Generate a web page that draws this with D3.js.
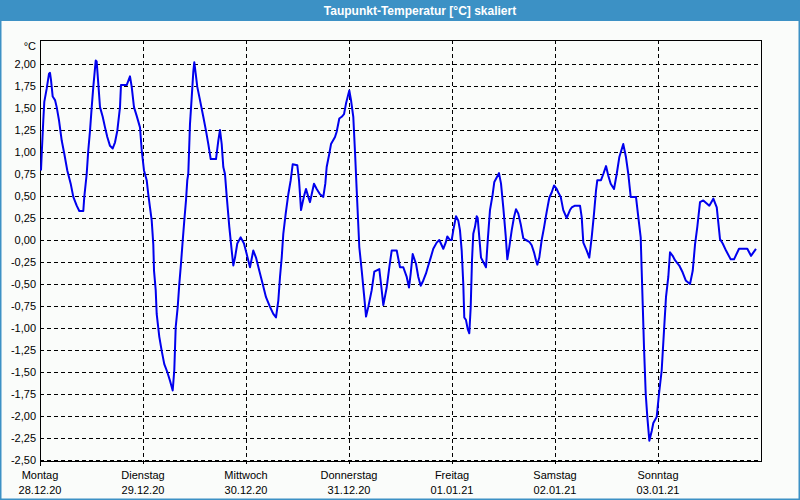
<!DOCTYPE html>
<html><head><meta charset="utf-8">
<script src="https://cdn.jsdelivr.net/npm/d3@7"></script>
<style>
html,body{margin:0;padding:0;background:#fafcfa;}
svg{display:block;}
</style></head>
<body>
<svg id="chart" width="800" height="500"></svg>
<script>
// ---- data (hours since 28.12.20 00:00, dew point in °C) ----
const hours = [0.23,0.4,0.77,1.0,1.56,2.1,2.33,2.56,2.96,3.5,3.89,4.43,5.06,5.66,6.36,7.15,7.76,8.55,9.16,10.09,10.32,10.88,11.25,11.65,12.05,12.42,12.98,13.2,13.58,13.98,14.61,15.15,15.68,16.31,16.94,17.48,18.01,18.64,18.87,20.2,20.97,21.37,21.9,22.53,23.3,23.7,24.23,24.86,25.23,25.63,26.03,26.4,26.57,26.96,27.19,27.8,28.36,28.96,29.66,30.29,30.92,31.29,31.62,32.09,32.46,32.85,33.25,33.62,34.02,34.32,34.55,34.95,35.35,35.72,35.95,36.28,36.65,37.28,38.05,38.68,39.22,39.78,41.01,41.55,41.94,42.34,42.71,43.1,43.5,44.11,44.67,45.04,45.44,45.97,46.77,47.53,48.16,48.93,49.7,50.33,51.1,51.89,52.66,53.59,54.36,54.99,55.53,55.92,56.32,56.69,57.25,57.86,58.42,58.88,59.95,60.35,60.58,60.82,61.21,61.58,61.98,62.52,62.91,63.31,63.84,64.47,65.24,66.01,66.48,66.8,67.41,67.81,68.74,69.13,69.74,70.3,70.84,71.3,72.07,72.47,73.0,73.4,73.8,74.4,74.57,74.97,75.5,75.97,76.5,77.29,77.9,79.06,79.46,80.0,80.78,81.39,81.95,83.12,83.88,84.65,85.45,85.98,86.38,86.84,87.61,88.15,88.71,89.31,89.94,90.48,91.04,91.64,92.43,93.04,93.6,93.97,94.53,94.9,95.53,95.93,96.3,96.93,97.47,97.86,98.26,98.63,98.86,99.26,99.65,100.03,100.36,100.66,100.96,101.36,101.76,101.99,102.36,102.76,103.29,103.92,104.32,104.85,105.48,105.86,106.41,106.95,107.42,107.95,108.51,108.89,109.35,109.91,110.45,110.91,111.45,112.01,112.61,113.24,114.01,114.57,115.11,115.57,115.88,116.34,116.9,117.44,118.06,118.67,119.23,119.77,120.39,120.77,121.33,121.93,122.72,123.49,123.89,124.66,125.83,126.22,126.6,127.39,127.99,128.55,129.09,129.55,129.86,130.72,131.26,131.89,132.42,132.98,133.75,134.38,134.98,135.91,136.54,137.08,137.64,138.87,139.41,139.97,140.2,140.44,140.74,141.14,141.51,141.98,142.54,142.91,143.7,144.23,144.86,145.4,145.86,146.4,146.8,147.42,147.96,148.96,149.76,150.46,151.46,152.09,152.63,153.16,153.79,154.56,155.96,156.89,157.69,158.45,159.08,159.85,160.94,161.71,162.88,164.81,165.67,166.83];
const dewpoint = [0.79,0.98,1.36,1.57,1.72,1.89,1.9,1.82,1.63,1.59,1.51,1.36,1.13,0.98,0.79,0.64,0.49,0.39,0.33,0.33,0.49,0.75,1.02,1.24,1.51,1.74,2.04,2.03,1.78,1.51,1.4,1.28,1.17,1.07,1.04,1.11,1.24,1.51,1.76,1.76,1.86,1.74,1.51,1.41,1.28,1.02,0.79,0.68,0.52,0.37,0.22,-0.05,-0.35,-0.57,-0.84,-1.1,-1.26,-1.41,-1.5,-1.6,-1.71,-1.48,-0.99,-0.76,-0.5,-0.27,-0.01,0.22,0.45,0.68,0.75,1.32,1.62,1.91,2.02,1.89,1.74,1.59,1.4,1.24,1.09,0.92,0.92,1.13,1.25,1.09,0.83,0.75,0.5,0.15,-0.12,-0.29,-0.2,-0.04,0.03,-0.04,-0.16,-0.31,-0.12,-0.2,-0.35,-0.5,-0.65,-0.76,-0.84,-0.88,-0.69,-0.42,-0.2,0.07,0.3,0.52,0.68,0.86,0.85,0.68,0.52,0.34,0.43,0.51,0.58,0.49,0.43,0.52,0.64,0.58,0.52,0.49,0.64,0.83,0.98,1.09,1.17,1.23,1.38,1.4,1.43,1.55,1.7,1.59,1.4,1.0,0.56,-0.08,-0.16,-0.35,-0.62,-0.87,-0.76,-0.57,-0.36,-0.33,-0.5,-0.74,-0.54,-0.31,-0.12,-0.12,-0.31,-0.31,-0.42,-0.54,-0.38,-0.16,-0.27,-0.42,-0.52,-0.46,-0.38,-0.29,-0.2,-0.1,-0.03,0.0,-0.06,-0.1,-0.03,0.04,0.0,0.0,0.11,0.27,0.22,0.11,-0.12,-0.5,-0.88,-0.91,-1.01,-1.06,-0.76,-0.23,0.07,0.15,0.27,0.25,0.03,-0.2,-0.25,-0.31,-0.01,0.34,0.52,0.66,0.71,0.76,0.64,0.37,0.05,-0.22,-0.08,0.11,0.26,0.35,0.3,0.18,0.02,0.0,-0.02,-0.06,-0.14,-0.23,-0.28,-0.2,0.0,0.14,0.32,0.48,0.54,0.62,0.58,0.54,0.49,0.34,0.25,0.34,0.37,0.39,0.39,0.26,-0.03,-0.12,-0.2,0.03,0.3,0.56,0.68,0.68,0.75,0.84,0.73,0.64,0.58,0.75,0.94,1.09,0.94,0.75,0.49,0.49,0.26,0.03,-0.35,-0.73,-1.22,-1.75,-2.01,-2.28,-2.17,-2.08,-2.01,-1.75,-1.48,-1.03,-0.65,-0.42,-0.14,-0.18,-0.23,-0.29,-0.37,-0.46,-0.5,-0.35,-0.05,0.15,0.43,0.45,0.39,0.47,0.37,0.01,-0.04,-0.12,-0.22,-0.22,-0.1,-0.1,-0.18,-0.1];
const dayNames = ["Montag","Dienstag","Mittwoch","Donnerstag","Freitag","Samstag","Sonntag"];
const dayDates = ["28.12.20","29.12.20","30.12.20","31.12.20","01.01.21","02.01.21","03.01.21"];
const yTicks = [2.0,1.75,1.5,1.25,1.0,0.75,0.5,0.25,0.0,-0.25,-0.5,-0.75,-1.0,-1.25,-1.5,-1.75,-2.0,-2.25,-2.5];
const titleText = "Taupunkt-Temperatur [°C] skaliert";
const unitText = "°C";

// ---- layout ----
const W = 800, H = 500;
const L = 40, R = 761, T = 40, B = 460;
const svg = d3.select("#chart");
const font = "Tahoma, 'Liberation Sans', 'DejaVu Sans', sans-serif";
const blue = "#3c91c5";

const x = d3.scaleLinear().domain([0, 168]).range([L, R]);
const y = d3.scaleLinear().domain([-2.5, 2.2727]).range([B, T]);
const px = v => Math.round(v) + 0.5;

// window frame
svg.append("rect").attr("x",0).attr("y",0).attr("width",W).attr("height",H).attr("fill","#fafcfa");
svg.append("rect").attr("x",0).attr("y",0).attr("width",W).attr("height",21).attr("fill",blue);
svg.append("rect").attr("x",0.75).attr("y",0).attr("width",W-1.5).attr("height",H-0.75)
  .attr("fill","none").attr("stroke",blue).attr("stroke-width",1.5);
svg.append("text").attr("x",420).attr("y",14.5).attr("text-anchor","middle")
  .attr("fill","#fff").attr("font-family",font).attr("font-weight","bold").attr("font-size","12px")
  .text(titleText);

// horizontal grid
svg.append("g").selectAll("line").data(yTicks).join("line")
  .attr("x1",L).attr("x2",R).attr("y1",d=>px(y(d))).attr("y2",d=>px(y(d)))
  .attr("stroke","#000").attr("stroke-width",1).attr("stroke-dasharray","4,3");

// vertical day grid
const dayHours = dayNames.map((d,i)=>i*24);
svg.append("g").selectAll("line").data(dayHours.slice(1)).join("line")
  .attr("x1",d=>px(x(d))).attr("x2",d=>px(x(d))).attr("y1",T).attr("y2",B+4)
  .attr("stroke","#000").attr("stroke-width",1).attr("stroke-dasharray","4,3");

// frame
svg.append("rect").attr("x",px(L)).attr("y",px(T)).attr("width",Math.round(R)-Math.round(L)).attr("height",Math.round(B+1)-Math.round(T))
  .attr("fill","none").attr("stroke","#000").attr("stroke-width",1);
svg.append("line").attr("x1",px(L)).attr("x2",px(L)).attr("y1",B+1).attr("y2",B+6).attr("stroke","#000");

// y labels
svg.append("g").selectAll("text").data(yTicks).join("text")
  .attr("x",36).attr("y",d=>y(d)+4).attr("text-anchor","end")
  .attr("font-family",font).attr("font-size","11px").attr("fill","#000")
  .text(d=>d3.format(".2f")(d).replace(".",",").replace("−","-"));
svg.append("text").attr("x",36).attr("y",50).attr("text-anchor","end")
  .attr("font-family",font).attr("font-size","11px").attr("fill","#000").text(unitText);

// x labels
const xl = svg.append("g").selectAll("g").data(dayNames).join("g")
  .attr("transform",(d,i)=>`translate(${x(dayHours[i])},0)`);
xl.append("text").attr("y",479).attr("text-anchor","middle").attr("font-family",font).attr("font-size","11px").text(d=>d);
xl.append("text").attr("y",494).attr("text-anchor","middle").attr("font-family",font).attr("font-size","11px").text((d,i)=>dayDates[i]);

// line
const pts = hours.map((h,i)=>[h, dewpoint[i]]);
svg.append("path").datum(pts)
  .attr("d", d3.line().x(d=>x(d[0])).y(d=>y(d[1])))
  .attr("fill","none").attr("stroke","#0000ee").attr("stroke-width",2).attr("stroke-linejoin","round");
</script>
</body></html>
